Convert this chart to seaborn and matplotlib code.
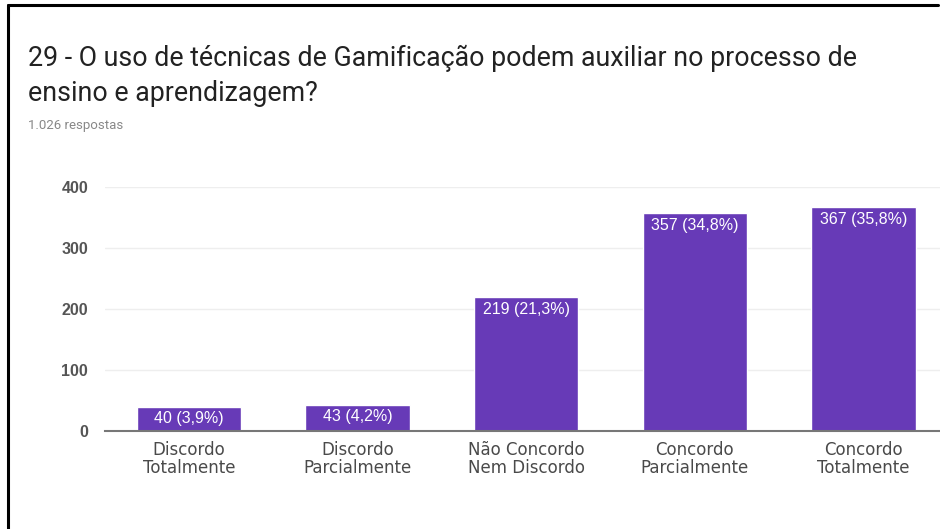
import matplotlib
matplotlib.use("Agg")
import matplotlib.pyplot as plt
from matplotlib.lines import Line2D
import seaborn as sns
import pandas as pd

categories = ["Discordo\nTotalmente", "Discordo\nParcialmente", "Não Concordo\nNem Discordo",
              "Concordo\nParcialmente", "Concordo\nTotalmente"]
counts = [40, 43, 219, 357, 367]
percents = ["3,9", "4,2", "21,3", "34,8", "35,8"]
yticks = [0, 100, 200, 300, 400]

title = "29 - O uso de técnicas de Gamificação podem auxiliar no processo de\nensino e aprendizagem?"
subtitle = "1.026 respostas"

sns.set_theme(style="white")
plt.rcParams["font.family"] = ["Liberation Sans", "DejaVu Sans"]

W, H = 940, 529
fig = plt.figure(figsize=(W / 100, H / 100), dpi=100)
fig.patch.set_facecolor("white")

ax = fig.add_axes([104.7 / W, 1 - 431 / H, 843 / W, (431 - 187) / H])
df = pd.DataFrame({"cat": categories, "n": counts})
sns.barplot(data=df, x="cat", y="n", color="#673AB7", saturation=1, width=0.62, ax=ax, zorder=3)

ax.set_xlim(-0.5, 4.5)
ax.set_ylim(0, 400)
ax.set_yticks(yticks)
ax.set_yticklabels([str(t) for t in yticks], color="#555555", fontsize=11.5, fontweight="bold")
ax.tick_params(axis="y", length=0, pad=12)
ax.tick_params(axis="x", length=0, pad=7)
for lbl in ax.get_xticklabels():
    lbl.set_family("DejaVu Sans")
    lbl.set_fontsize(12)
    lbl.set_color("#4a4a4a")
    lbl.set_linespacing(1.0)
ax.set_xlabel("")
ax.set_ylabel("")

for t in yticks[1:]:
    ax.axhline(t, color="#eeeeee", lw=1, zorder=1)
for s in ["top", "right", "left"]:
    ax.spines[s].set_visible(False)
ax.spines["bottom"].set_color("#777777")
ax.spines["bottom"].set_linewidth(1.5)
ax.spines["bottom"].set_zorder(4)

for i, (n, p) in enumerate(zip(counts, percents)):
    ax.annotate(f"{n} ({p}%)", xy=(i, n), xytext=(0, -12), textcoords="offset pixels",
                ha="center", va="center", color="white", fontsize=11.5, zorder=5)

fig.text(28 / W, 1 - 76 / H, title, fontsize=19.3, family="Roboto", color="#222222",
         ha="left", va="center", linespacing=1.35)
fig.text(28 / W, 1 - 126 / H, subtitle, fontsize=9.5, family="Roboto", color="#888888",
         ha="left", va="center")

# frame lines at the left and top
fig.add_artist(Line2D([8 / W, 8 / W], [0, 1 - 5 / H], transform=fig.transFigure, color="black", lw=2.2))
fig.add_artist(Line2D([8 / W, 938 / W], [1 - 5 / H, 1 - 5 / H], transform=fig.transFigure, color="black", lw=2.2))

fig.savefig("out.png", dpi=100, facecolor="white")
